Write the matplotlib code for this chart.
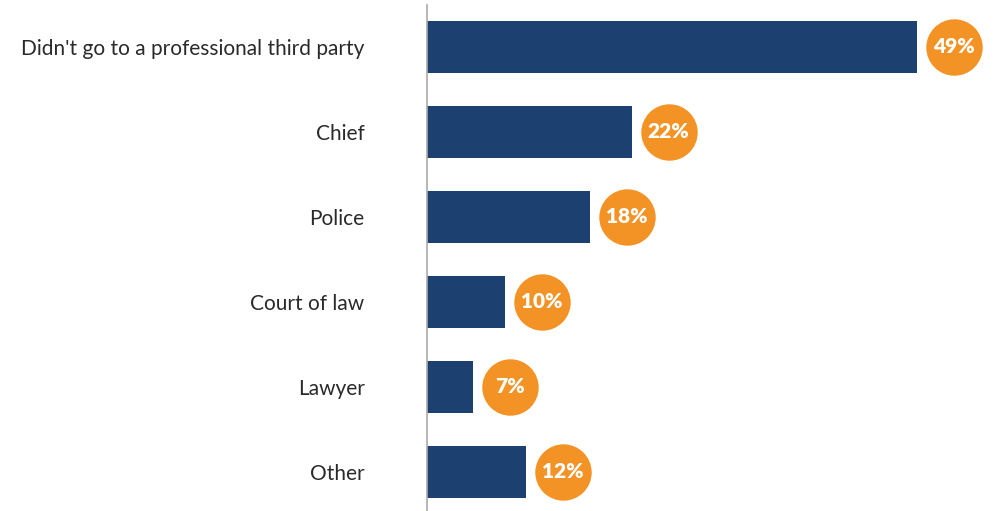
import matplotlib.pyplot as plt

categories = ["Didn't go to a professional third party", 'Chief', 'Police',
              'Court of law', 'Lawyer', 'Other']
values = [49, 22, 18, 10, 7, 12]
labels = ['49%', '22%', '18%', '10%', '7%', '12%']

bar_color = '#1c4170'
dot_color = '#f39325'

plt.rcParams['font.family'] = ['Lato', 'DejaVu Sans']

f = plt.figure(figsize=(9.97, 5.11), dpi=100)
ax = f.add_axes([427 / 997, 0, 1 - 427 / 997, 506 / 511])

pos = list(range(len(categories)))
ax.barh(pos, values, height=0.61, color=bar_color, zorder=2)

# orange circles a little past the bar end
dot_x = [v + 3.5 for v in values]
ax.scatter(dot_x, pos, s=1650, color=dot_color, zorder=3, linewidths=0)
for x, y, lab in zip(dot_x, pos, labels):
    ax.text(x, y, lab, ha='center', va='center', color='white',
            fontsize=15, fontweight='heavy', zorder=4)

ax.set_xlim(2.6, 56.6)
ax.set_ylim(5.46, -0.494)
ax.set_yticks(pos)
ax.set_yticklabels(categories, fontsize=15, color='#2a2a2a')
ax.tick_params(axis='y', length=0, pad=45)
ax.set_xticks([])

for side in ['top', 'right', 'bottom']:
    ax.spines[side].set_visible(False)
ax.spines['left'].set_color('#aaaaaa')
ax.spines['left'].set_linewidth(1.2)

f.savefig('out.png', dpi=100)
